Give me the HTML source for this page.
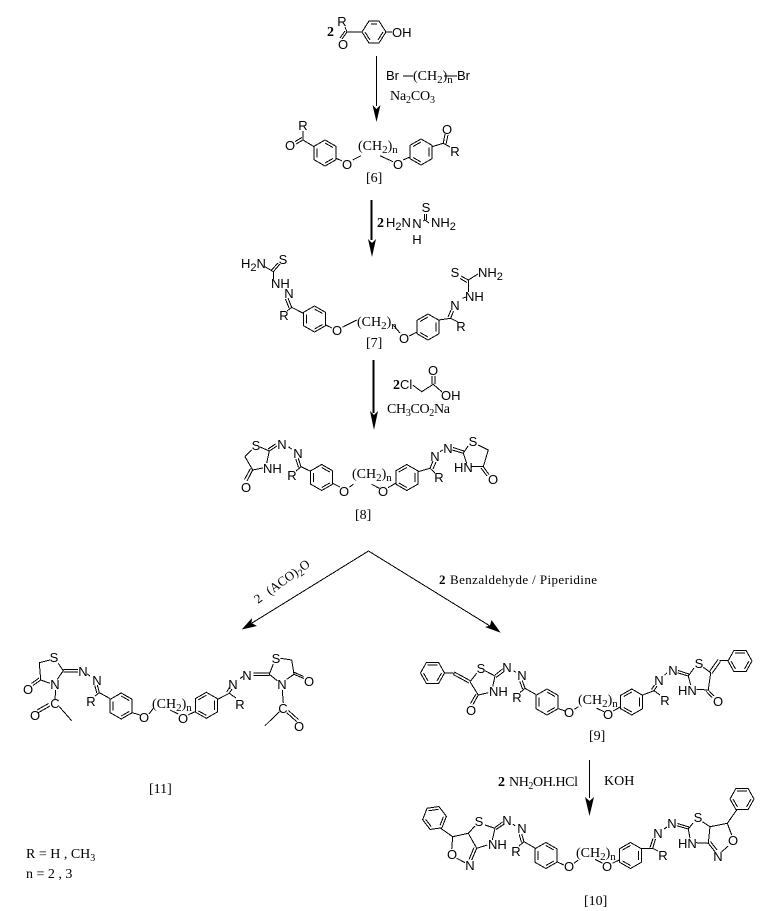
<!DOCTYPE html>
<html>
<head>
<meta charset="utf-8">
<style>
html,body{margin:0;padding:0;background:#fff}
svg{display:block}
.b{fill:none;stroke:#000;stroke-width:1;shape-rendering:crispEdges}
text{fill:#000}
.a{font:13px "Liberation Sans",sans-serif;text-anchor:middle}
.l{font:13px "Liberation Sans",sans-serif}
.s{font:14px "Liberation Serif",serif}
.z{font:bold 14px "Liberation Serif",serif}
.u{font-size:11px}
.t{font-size:10px}
</style>
</head>
<body>
<svg width="762" height="911" viewBox="0 0 762 911" xmlns="http://www.w3.org/2000/svg">
<defs>
<g id="rL" class="b"><path d="M-11-6.7L0-13L11-6.7V6.7L0 13L-11 6.7Z"/><path d="M-8-4.7V4.7M0-10L8-5.5M0 10L8 5.5"/></g>
<g id="rR" class="b"><path d="M-11-6.7L0-13L11-6.7V6.7L0 13L-11 6.7Z"/><path d="M8-4.7V4.7M0-10L-8-5.5M0 10L-8 5.5"/></g>
<g id="p" class="b"><path d="M-12 0L-6-10.7H6L12 0L6 10.7H-6Z"/><path d="M-5-8H5M-9 0L-4.5 8M9 0L4.5 8"/></g>
</defs>
<rect width="762" height="911" fill="#fff"/>

<!-- Top reactant -->
<path class="b" d="M362 32L369 21H379L386 32L379 43H369ZM371 24H377M365 32L370 40M383 32L378 40M386 32H392M347 32H362M347 32L345 27M347 32L342 39M345 31L340 38"/>
<text class="z" x="327" y="36">2</text>
<text class="a" x="342" y="26">R</text>
<text class="a" x="343" y="49">O</text>
<text class="l" x="392" y="37">OH</text>

<!-- Arrow 1 -->
<path class="b" d="M376.500 56V106"/>
<path d="M376.500 122L372.500 105L376.500 109L380.500 105Z"/>
<text class="l" x="386" y="80">Br</text>
<path class="b" d="M403 76H413M444 76H457"/>
<text class="s" x="413" y="80">(CH<tspan class="u" dy="3">2</tspan><tspan dy="-3">)</tspan><tspan class="u" dy="3">n</tspan></text>
<text class="l" x="457" y="80">Br</text>
<text class="s" x="390" y="100" textLength="45">Na<tspan class="t" dy="3">2</tspan><tspan dy="-3">CO</tspan><tspan class="t" dy="3">3</tspan></text>

<!-- [6] -->
<use href="#rL" x="325" y="153"/>
<use href="#rR" x="421" y="152"/>
<path class="b" d="M303 140L314 146.700M303 140V131M303 140L296 144M302 137.500L295 141.500M335.700 158L342 161M352.700 160L361 155.700M380 155.700L393 161.700M403 160L410 157M432 146.700L443.300 143.300M443.300 143.300L445 134M446 144L448 135M443.300 143.300L450 147"/>
<text class="a" x="303" y="130">R</text>
<text class="a" x="290" y="150">O</text>
<text class="a" x="347" y="169">O</text>
<text class="s" x="358" y="150">(CH<tspan class="u" dy="3">2</tspan><tspan dy="-3">)</tspan><tspan class="u" dy="3">n</tspan></text>
<text class="a" x="398" y="169">O</text>
<text class="a" x="447" y="134">O</text>
<text class="a" x="455" y="156">R</text>
<text class="s" x="366" y="182">[6]</text>

<!-- Arrow 2 -->
<path class="b" d="M371.500 200V240" style="stroke-width:2"/>
<path d="M372 257L368 239L372 243L376 239Z"/>
<text class="z" x="377" y="227">2</text>
<text class="l" x="386" y="227">H<tspan class="u" dy="3">2</tspan><tspan dy="-3">N</tspan></text>
<text class="a" x="417" y="228">N</text>
<text class="a" x="417" y="244">H</text>
<text class="a" x="426" y="212">S</text>
<text class="l" x="431" y="227">NH<tspan class="u" dy="3">2</tspan></text>
<path class="b" d="M424.500 214V220M426.500 214V220M423 221L425 220L429 223"/>

<!-- [7] -->
<use href="#rL" x="314.500" y="319"/>
<use href="#rR" x="428" y="327"/>
<text class="l" x="241" y="268">H<tspan class="u" dy="3">2</tspan><tspan dy="-3">N</tspan></text>
<text class="a" x="283" y="264">S</text>
<text class="l" x="271" y="288">NH</text>
<text class="a" x="289" y="298">N</text>
<text class="a" x="284" y="320">R</text>
<path class="b" d="M265 266.700L273.300 271.700M273.300 271.700L280 264M271.500 270L278 263M273.300 271.700V279M288 298L291.700 307.300M285.500 299L289 308M291.700 307.300L287 311M291.700 307.300L303.300 313.300M325.700 325L332 328M342.300 327.300L356.700 320M393.300 325L400 333M409.300 336L417 332M439 320L450.700 318.300M450.700 318.300L453.500 311M448 317L451 310M450.700 318.300L458 322M462.700 298.300L466 297M468.300 280V292M468.300 280L478 274M468.300 280L461 276M467 282.500L460 278.500"/>
<text class="a" x="337" y="335">O</text>
<text class="s" x="357" y="326">(CH<tspan class="u" dy="3">2</tspan><tspan dy="-3">)</tspan><tspan class="u" dy="3">n</tspan></text>
<text class="a" x="404" y="343">O</text>
<text class="a" x="461" y="331">R</text>
<text class="a" x="455" y="310">N</text>
<text class="l" x="465" y="301">NH</text>
<text class="a" x="455" y="277">S</text>
<text class="l" x="478" y="277">NH<tspan class="u" dy="3">2</tspan></text>
<text class="s" x="366" y="347">[7]</text>

<!-- Arrow 3 -->
<path class="b" d="M373.700 360V413" style="stroke-width:2"/>
<path d="M374 430L370 411L374 415L378 411Z"/>
<text class="z" x="393" y="389">2</text>
<text class="l" x="400" y="389">Cl</text>
<path class="b" d="M412.700 385L421.700 391.700L433.300 384.300L442 392M432 384V376M435 384V376"/>
<text class="a" x="433" y="375">O</text>
<text class="l" x="441" y="400">OH</text>
<text class="s" x="387" y="413" textLength="63">CH<tspan class="t" dy="3">3</tspan><tspan dy="-3">CO</tspan><tspan class="t" dy="3">2</tspan><tspan dy="-3">Na</tspan></text>

<!-- [8] -->
<use href="#rL" x="321.700" y="477.500"/>
<use href="#rR" x="406.800" y="477.500"/>
<path class="b" d="M245 456.700L251.700 450M245 456.700L252.700 470M252.700 470L263 468M252.700 470L247 481M250.500 468.500L244.500 479.500M260 447L269.300 451M269.300 451L266.700 463M269.300 451L277 446M268 449L275.500 444M288.300 446.700L291.700 449M298.300 458.300L301 466.700M295.800 459L298.500 467.500M301 466.700L296 471M301 466.700L311 471.500M332.700 483.300L340 487M349.300 487.300L353.300 484.300M371.700 484.300L379.300 488.300M388 487.700L396 483M418 471.700L430 468.300M430 468.300L433 461M433 469L436 462M430 468.300L435 473M440 451.700L442.700 450M452.300 450L463.300 453.300M453 447.500L464 451M463.300 453.300L468 446M478.300 445L488.300 450L483.300 466.700M463.300 453.300L466.700 463.300M471.700 466.700H483.300M483.300 466.700L489 474.500M481 468L487 476"/>
<text class="a" x="256" y="450">S</text>
<text class="l" x="263" y="473">NH</text>
<text class="a" x="246" y="492">O</text>
<text class="a" x="282" y="449">N</text>
<text class="a" x="298" y="458">N</text>
<text class="a" x="292" y="480">R</text>
<text class="a" x="344" y="496">O</text>
<text class="s" x="352" y="478">(CH<tspan class="u" dy="3">2</tspan><tspan dy="-3">)</tspan><tspan class="u" dy="3">n</tspan></text>
<text class="a" x="383" y="496">O</text>
<text class="a" x="439" y="482">R</text>
<text class="a" x="435" y="461">N</text>
<text class="a" x="448" y="453">N</text>
<text class="a" x="473" y="446">S</text>
<text class="l" x="454" y="472">HN</text>
<text class="a" x="493" y="484">O</text>
<text class="s" x="355" y="519">[8]</text>

<!-- Branch arrows -->
<path class="b" d="M368.500 551L252 623M368.500 551L490 626"/>
<path d="M241.700 629.500L252 618L251.500 623L257 626Z"/>
<path d="M500.700 632.700L485 627L490 625.500L491.500 620Z"/>
<text class="s" transform="translate(258 604) rotate(-36)" style="font-size:13px">2</text>
<text class="s" transform="translate(270 595.500) rotate(-36)" style="font-size:13px">(ACO)<tspan class="t" dy="3">2</tspan><tspan dy="-3">O</tspan></text>
<text class="z" x="439" y="584" style="font-size:13px">2</text>
<text class="s" x="450" y="584" style="font-size:13px" textLength="147" lengthAdjust="spacing">Benzaldehyde / Piperidine</text>

<!-- [11] -->
<use href="#rL" x="121.200" y="706"/>
<use href="#rR" x="206.300" y="705.300"/>
<path class="b" d="M50 660L39.300 662.700L40.700 680L50 683.300M40.700 680L33 685.500M39 678L31.500 683.500M57.300 679.300L63.300 670.700L58.300 663.300M63.300 669.500H78M63.300 672H78M87.300 674L90 676M97.300 685L99.300 692.700M94.800 685.500L96.800 693M99.300 692.700L95 696M99.300 692.700L110 698.500M132.300 712.700L140 715M149 714L153.300 708.300M170 710L178.300 714M188 715L195 711.700M217.700 699.300L229.300 693.300M229.300 693.300L232 689M226.700 692L229.500 687.500M229.300 693.300L236 698M240 678.500L243 676.500M253.300 673H269.300M253.300 675.500H269.300M269.300 674.300L273.300 664M280.700 658.300L291.700 660L294 674.300M294 674.300L304 678.500M293.500 672L303.500 676.500M294 674.300L286.700 679.300M269.300 674.300L277.300 680.700M282.300 690L283.300 703M55.700 690L55 699M50 706L38.300 712.700M48.500 703.500L37 710M59.300 706.700L71.700 720.700M286.700 712.700L296.700 721.700M288.500 710.500L298.500 719.500M279.300 711.700L265 725.700"/>
<text class="a" x="54" y="662">S</text>
<text class="a" x="28" y="694">O</text>
<text class="a" x="55" y="689">N</text>
<text class="a" x="83" y="676">N</text>
<text class="a" x="97" y="685">N</text>
<text class="a" x="91" y="706">R</text>
<text class="a" x="55" y="708">C</text>
<text class="a" x="35" y="720">O</text>
<text class="a" x="144" y="722">O</text>
<text class="s" x="152" y="708">(CH<tspan class="u" dy="3">2</tspan><tspan dy="-3">)</tspan><tspan class="u" dy="3">n</tspan></text>
<text class="a" x="183" y="723">O</text>
<text class="a" x="240" y="709">R</text>
<text class="a" x="233" y="689">N</text>
<text class="a" x="247" y="680">N</text>
<text class="a" x="276" y="663">S</text>
<text class="a" x="309" y="686">O</text>
<text class="a" x="282" y="689">N</text>
<text class="a" x="283" y="713">C</text>
<text class="a" x="299" y="731">O</text>
<text class="s" x="149" y="793">[11]</text>
<text class="s" x="26" y="858">R = H , CH<tspan class="t" dy="3">3</tspan></text>
<text class="s" x="26" y="878">n = 2 , 3</text>

<!-- [9] -->
<use href="#p" x="432.500" y="673"/>
<use href="#p" x="740" y="661"/>
<use href="#rL" x="547" y="702"/>
<use href="#rR" x="631.700" y="702"/>
<path class="b" d="M444.300 672.700L454.300 673.300M454.300 672L470 680.500M453.300 674.500L469 683M470 681.700L476.700 673.300M470 681.700L478.300 695M478.300 695L488.300 692.700M478.300 695L473 704.500M476 694L470.500 703.500M495 676L492.700 686.700M485 670.700L495 676M495 675L502.500 669M496 677.500L504 671.500M513.300 670.700L516 672.300M522.300 680.700L525 688.300M519.800 681.500L522.500 689M525 688.300L520 692.500M525 688.300L536 694.500M557.300 708.300L565 711M574.300 709.300L578.300 706.700M596.700 708.300L604 711.700M613.300 711L620.700 706.700M642.700 695L654 690.700M654 690.700L657 686M651.500 689.500L654.500 685M654 690.700L660 695M664.500 675L667 673M677.300 672.700L688.300 676M678 670.500L689 674M688.300 676L694 668M703.300 667.300L710.700 672.700L708.300 690M708.300 690L714 696M706.300 691.500L712 697.500M696.700 689.300L708.300 690M688.300 676L690.700 685M709.500 671.500L718 659.500M712 673.500L720.500 661.500M719.300 660.700H728.300"/>
<text class="a" x="481" y="673">S</text>
<text class="a" x="471" y="715">O</text>
<text class="l" x="489" y="696">NH</text>
<text class="a" x="507" y="672">N</text>
<text class="a" x="522" y="680">N</text>
<text class="a" x="517" y="702">R</text>
<text class="a" x="569" y="717">O</text>
<text class="s" x="578" y="704">(CH<tspan class="u" dy="3">2</tspan><tspan dy="-3">)</tspan><tspan class="u" dy="3">n</tspan></text>
<text class="a" x="608" y="719">O</text>
<text class="a" x="665" y="705">R</text>
<text class="a" x="659" y="685">N</text>
<text class="a" x="673" y="675">N</text>
<text class="a" x="699" y="668">S</text>
<text class="l" x="678" y="695">HN</text>
<text class="a" x="718" y="706">O</text>
<text class="s" x="589" y="740">[9]</text>

<!-- Arrow 4 -->
<path class="b" d="M589.500 760V798"/>
<path d="M589.500 816L585 797L589.500 801L594 797Z"/>
<text class="z" x="498" y="786">2</text>
<text class="s" x="509" y="786" textLength="69">NH<tspan class="t" dy="3">2</tspan><tspan dy="-3">OH.HCl</tspan></text>
<text class="s" x="604" y="785">KOH</text>

<!-- [10] -->
<use href="#p" transform="translate(434.500 818) rotate(-8)"/>
<use href="#p" x="742" y="799"/>
<use href="#rL" x="545.900" y="855.500"/>
<use href="#rR" x="630.500" y="855.500"/>
<path class="b" d="M440.700 828.300L452.700 836.700L468.300 833.300M452.700 836.700L451.700 849M456.700 858.300L465 862.700M471.700 860L476.700 848.300M469 859.500L474 847.500M468.300 833.300L476.700 848.300M468.300 833.300L475 826M476.700 848.300L487.300 845M485 825L495 828.300M495 828.300L492.300 840M495 827.500L502.500 822M496 829.500L503.500 824.500M512.700 824L515.300 826M521.700 834L524 841.700M519.200 834.500L521.500 842.500M524 841.700L519 846M524 841.700L535 848M556.700 861.700L564 865M574 863.300L578.300 860M595 859.300L602.700 863.300M612.300 863.300L619.300 860M641.700 848.300L652.700 848.300M652.700 848.300L655.500 839M650 847.500L653 838.500M652.700 848.300L658 851M664 829L667 827M676.700 825.700L688.300 829M677.500 823.500L689 827M688.300 829L693 823M702.300 821.700L710 826.700L708.300 843.300M696 842.700L708.300 843.300M688.300 829L690 838.300M708.300 843.300L715 851.700M710.500 841.500L717 850M728.300 846L721.700 851.700M710 826.700L727.300 823.300L731.700 835M727.300 823.300L736.700 810"/>
<text class="a" x="452" y="859">O</text>
<text class="a" x="470" y="870">N</text>
<text class="a" x="479" y="826">S</text>
<text class="l" x="488" y="849">NH</text>
<text class="a" x="507" y="825">N</text>
<text class="a" x="522" y="833">N</text>
<text class="a" x="516" y="856">R</text>
<text class="a" x="569" y="871">O</text>
<text class="s" x="576" y="857">(CH<tspan class="u" dy="3">2</tspan><tspan dy="-3">)</tspan><tspan class="u" dy="3">n</tspan></text>
<text class="a" x="607" y="871">O</text>
<text class="a" x="663" y="860">R</text>
<text class="a" x="658" y="838">N</text>
<text class="a" x="672" y="828">N</text>
<text class="a" x="698" y="822">S</text>
<text class="l" x="678" y="848">HN</text>
<text class="a" x="718" y="861">N</text>
<text class="a" x="733" y="845">O</text>
<text class="s" x="584" y="905">[10]</text>
</svg>
</body>
</html>
